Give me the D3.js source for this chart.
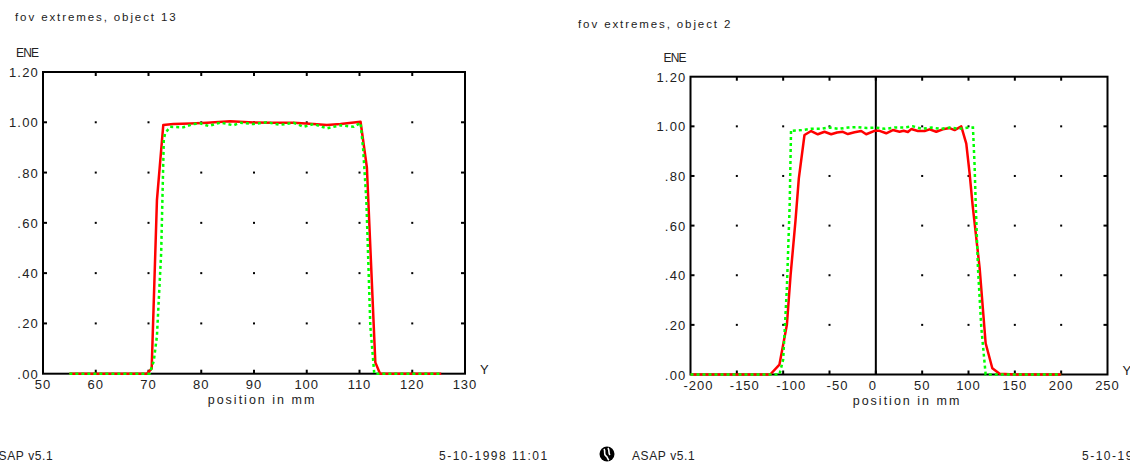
<!DOCTYPE html>
<html>
<head>
<meta charset="utf-8">
<script src="https://cdn.jsdelivr.net/npm/d3@7"></script>
<style>
  body { margin: 0; background: #fff; }
  svg { display: block; font-family: "Liberation Sans", Arial, sans-serif; }
</style>
</head>
<body>
<div id="chart"></div>
<script>
// y axis (shared)
const yTicks = [0, 0.2, 0.4, 0.6, 0.8, 1.0, 1.2]
const yTickLabels = ['.00', '.20', '.40', '.60', '.80', '1.00', '1.20']

// object 13
const obj13XTicks = [50, 60, 70, 80, 90, 100, 110, 120, 130]
const obj13RedPos = [55, 60, 65, 69.7, 70.6, 71.6, 72.8, 74.7, 78, 81.1, 85.5, 89.9, 93.5, 97.5, 101.3, 103.8, 106.4, 110.2, 111.4, 113.0, 113.9, 118, 122, 125.5]
const obj13RedEne = [0, 0, 0, 0, 0.02, 0.69, 0.989, 0.993, 0.995, 0.998, 1.004, 0.999, 0.998, 0.998, 0.993, 0.989, 0.993, 1.002, 0.82, 0.045, 0, 0, 0, 0]
const obj13GreenPos = [55, 60, 65, 70.2, 71.0, 71.6, 72.4, 72.9, 73.15, 74.1, 76.6, 78.5, 79.8, 81.4, 83.6, 86.1, 87.4, 89.9, 92.4, 95.0, 97.5, 99.4, 101.3, 103.8, 106.4, 108.9, 110.2, 110.7, 111.3, 112.05, 112.8, 118, 122, 125.5]
const obj13GreenEne = [0, 0, 0, 0, 0.05, 0.15, 0.48, 0.93, 0.956, 0.982, 0.98, 0.993, 0.996, 0.985, 0.999, 0.988, 0.998, 0.993, 1.0, 0.99, 0.998, 0.982, 0.993, 0.976, 0.988, 0.982, 0.998, 0.89, 0.69, 0.19, 0, 0, 0, 0]

// object 2
const obj2XTicks = [-200, -150, -100, -50, 0, 50, 100, 150, 200, 250]
const obj2RedPos = [-200, -150, -114, -104, -96, -92, -86.7, -83.1, -77, -69.8, -62.6, -55.4, -48.2, -41.9, -35.6, -30.2, -23, -15.8, -10.4, -1.4, 4, 11.2, 18.4, 25.6, 30, 34.6, 38.2, 45.4, 52.6, 58, 65.2, 72.3, 79.6, 85, 92.2, 97.6, 101.2, 104.5, 112, 118.5, 125.7, 133.6, 150, 200]
const obj2RedEne = [0, 0, 0, 0.04, 0.2, 0.4, 0.62, 0.79, 0.965, 0.981, 0.968, 0.978, 0.968, 0.975, 0.978, 0.969, 0.976, 0.981, 0.968, 0.982, 0.982, 0.972, 0.985, 0.978, 0.982, 0.977, 0.989, 0.981, 0.981, 0.988, 0.978, 0.988, 0.993, 0.985, 1.0, 0.93, 0.81, 0.68, 0.43, 0.126, 0.025, 0.003, 0, 0]
const obj2GreenPos = [-200, -150, -104, -100, -96, -93, -91.5, -90, -80, -70, -60, -50, -40, -30, -20, -10, 0, 10, 20, 30, 40, 50, 60, 70, 80, 90, 100, 104.8, 106.6, 107.7, 110.2, 113.8, 118.5, 150, 200]
const obj2GreenEne = [0, 0, 0, 0.06, 0.35, 0.68, 0.985, 0.982, 0.985, 0.99, 0.99, 0.995, 0.99, 0.995, 0.997, 0.993, 0.995, 0.99, 0.995, 0.995, 1.0, 0.99, 0.995, 0.99, 0.995, 0.99, 0.995, 0.995, 0.84, 0.70, 0.43, 0.19, 0, 0, 0]

const width = 1130, height = 466

let svg = d3.select('#chart').append('svg')
    .attr('width', width)
    .attr('height', height)
svg.append('rect').attr('width', width).attr('height', height).attr('fill', '#fff')

function zip(xs, ys) {
    return xs.map((x, i) => ({ pos: x, ene: ys[i] }))
}

function drawPanel(p) {
    let x = d3.scaleLinear().domain(d3.extent(p.xTicks)).range([p.left, p.right])
    let y = d3.scaleLinear().domain([0, 1.2]).range([p.bottom, p.top])
    let g = svg.append('g')
    let innerX = p.xTicks.slice(1, -1)
    let innerY = yTicks.slice(1, -1)

    // grid dots
    innerX.filter(v => !(p.zeroLine && v === 0)).forEach(xv => {
        innerY.forEach(yv => {
            g.append('rect')
                .attr('x', x(xv) - 1).attr('y', y(yv) - 1)
                .attr('width', 2).attr('height', 2)
                .attr('fill', '#000')
        })
    })

    // inside ticks on all four sides
    let tickStyle = sel => sel.attr('stroke', '#000').attr('stroke-width', 2)
    innerX.forEach(v => {
        g.append('line').attr('x1', x(v)).attr('x2', x(v)).attr('y1', p.bottom).attr('y2', p.bottom - 4).call(tickStyle)
        g.append('line').attr('x1', x(v)).attr('x2', x(v)).attr('y1', p.top).attr('y2', p.top + 4).call(tickStyle)
    })
    innerY.forEach(v => {
        g.append('line').attr('x1', p.left).attr('x2', p.left + 4).attr('y1', y(v)).attr('y2', y(v)).call(tickStyle)
        g.append('line').attr('x1', p.right).attr('x2', p.right - 4).attr('y1', y(v)).attr('y2', y(v)).call(tickStyle)
    })

    // frame
    g.append('rect')
        .attr('x', p.left).attr('y', p.top)
        .attr('width', p.right - p.left).attr('height', p.bottom - p.top)
        .attr('fill', 'none').attr('stroke', '#000').attr('stroke-width', 2)

    if (p.zeroLine) {
        g.append('line').attr('x1', x(0)).attr('x2', x(0)).attr('y1', p.top).attr('y2', p.bottom)
            .attr('stroke', '#000').attr('stroke-width', 2)
    }

    // tick labels (negative ones sit a little right of their tick, as in the plot)
    g.selectAll('.xlab').data(p.xTicks).enter().append('text')
        .attr('x', d => x(d))
        .attr('dx', d => d < 0 ? 8 : (d === 0 && p.zeroLine ? -3 : 0))
        .attr('y', p.bottom + 15)
        .attr('text-anchor', 'middle')
        .attr('font-size', 13)
        .attr('letter-spacing', 1)
        .attr('fill', '#222')
        .text(d => d3.format('d')(d).replace('−', '-'))
    g.selectAll('.ylab').data(yTicks).enter().append('text')
        .attr('x', p.left - 4)
        .attr('y', d => y(d) + 5)
        .attr('text-anchor', 'end')
        .attr('font-size', 13)
        .attr('letter-spacing', 1.2)
        .attr('fill', '#222')
        .text((d, i) => yTickLabels[i])

    // labels
    g.append('text').attr('x', p.titleX).attr('y', p.titleY)
        .attr('font-size', 11.5).attr('letter-spacing', 1.9).attr('fill', '#222')
        .text(p.title)
    g.append('text').attr('x', p.left - 27).attr('y', p.top - 15)
        .attr('font-size', 12).attr('letter-spacing', -0.8).attr('fill', '#222')
        .text('ENE')
    g.append('text').attr('x', (p.left + p.right) / 2 + 8).attr('y', p.bottom + 30)
        .attr('text-anchor', 'middle')
        .attr('font-size', 12.5).attr('letter-spacing', 2).attr('fill', '#222')
        .text('position in mm')
    g.append('text').attr('x', p.right + 15).attr('y', p.bottom)
        .attr('font-size', 13).attr('fill', '#222')
        .text('Y')

    // curves
    let line = d3.line().x(d => x(d.pos)).y(d => y(d.ene))
    g.append('path')
        .attr('d', line(zip(p.redPos, p.redEne)))
        .attr('fill', 'none').attr('stroke', '#ff0000')
        .attr('stroke-width', 2.5).attr('stroke-linejoin', 'round')
    g.append('path')
        .attr('d', line(zip(p.greenPos, p.greenEne)))
        .attr('fill', 'none').attr('stroke', '#00ff00')
        .attr('stroke-width', 2.5).attr('stroke-dasharray', '3,3')
}

drawPanel({
    left: 43, right: 465, top: 72, bottom: 373.7,
    xTicks: obj13XTicks,
    title: 'fov extremes, object 13', titleX: 15, titleY: 21,
    redPos: obj13RedPos, redEne: obj13RedEne,
    greenPos: obj13GreenPos, greenEne: obj13GreenEne,
    zeroLine: false
})
drawPanel({
    left: 690.5, right: 1107.5, top: 76.7, bottom: 374.5,
    xTicks: obj2XTicks,
    title: 'fov extremes, object 2', titleX: 578, titleY: 28,
    redPos: obj2RedPos, redEne: obj2RedEne,
    greenPos: obj2GreenPos, greenEne: obj2GreenEne,
    zeroLine: true
})

// page footers
let footer = svg.append('g').attr('font-size', 12).attr('fill', '#222')
footer.append('text').attr('x', -10).attr('y', 460).attr('letter-spacing', 0.6).text('ASAP v5.1')
footer.append('text').attr('x', 439).attr('y', 460).attr('letter-spacing', 1.5).text('5-10-1998 11:01')
footer.append('text').attr('x', 632).attr('y', 460).attr('letter-spacing', 0.6).text('ASAP v5.1')
footer.append('text').attr('x', 1082).attr('y', 460).attr('letter-spacing', 1.5).text('5-10-1998 11:01')

// logo
let logo = svg.append('g').attr('transform', 'translate(607,454)')
logo.append('circle').attr('r', 7.5).attr('fill', '#000')
logo.append('path')
    .attr('d', 'M-3,-5 C-1,-2 -4,0 -1,2 C1,3 0,5 2,6 M1,-6 C3,-3 1,-1 3,1')
    .attr('fill', 'none').attr('stroke', '#fff').attr('stroke-width', 1.6)
</script>
</body>
</html>
